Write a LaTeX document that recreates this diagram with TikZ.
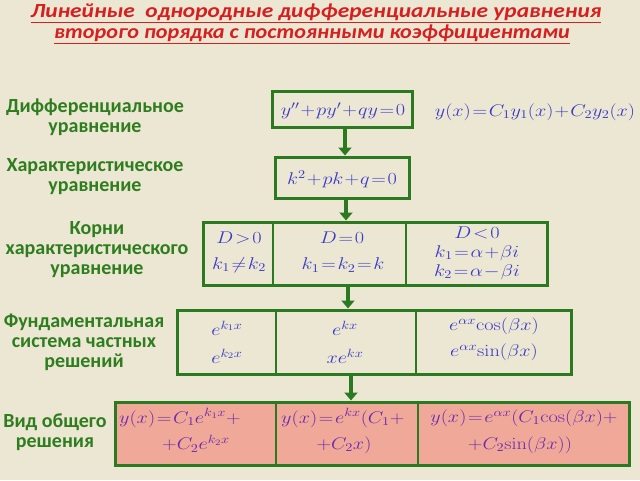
\documentclass[tikz,border=0pt]{standalone}
\usepackage{fix-cm}
\usepackage[no-math]{fontspec}
\setmainfont{Carlito}
\usetikzlibrary{arrows.meta,calc}
\definecolor{bg}{HTML}{ECE7D3}
\definecolor{gr}{HTML}{2B7A22}
\definecolor{lab}{HTML}{2E7D1F}
\definecolor{ttl}{HTML}{D81E1E}
\definecolor{mth}{HTML}{3A3AC8}
\definecolor{mth2}{HTML}{6A2AB0}
\definecolor{pinkfill}{HTML}{F0A898}
\newcommand\tightmath{\thickmuskip=1.5mu plus 1mu\medmuskip=1mu}
\newcommand\mx[1]{\scalebox{1.19}[1]{$#1$}}
\newcommand\tx[2]{\scalebox{#1}[1]{\underline{#2}}}
\begin{document}
\begin{tikzpicture}[x=1pt,y=-1pt,
  box/.style={draw=gr, line width=3pt, inner sep=0pt, rectangle},
  div/.style={draw=gr, line width=2pt},
  lbl/.style={text=lab, font=\fontsize{20}{20}\selectfont\bfseries, align=center, inner sep=0pt},
  ttlstyle/.style={text=ttl, font=\fontsize{20}{22}\selectfont\bfseries\itshape, inner sep=0pt},
  m/.style={text=mth, font=\fontsize{17}{19}\selectfont\tightmath, inner sep=0pt},
  mp/.style={text=mth2, font=\fontsize{17}{19}\selectfont\tightmath, inner sep=0pt},
  arr/.style={draw=gr, line width=4pt, -{Triangle[length=8pt,width=13pt]}}]
\fill[bg] (0,0) rectangle (640,480);
\useasboundingbox (0,0) rectangle (640,480);
% title
\node[ttlstyle] (t1) at (316,13) {\tx{1.17}{Линейные\ \ однородные дифференциальные уравнения}};
\node[ttlstyle] (t2) at (312,34) {\tx{1.11}{второго порядка с постоянными коэффициентами}};
% boxes
\node[box, minimum width=140, minimum height=36] (b1) at (342,109) {};
\node[box, minimum width=134, minimum height=41] (b2) at (342,177.5) {};
\node[box, minimum width=344, minimum height=63] (b3) at (375,253.5) {};
\node[box, minimum width=394, minimum height=64] (b4) at (374,342) {};
\node[box, fill=pinkfill, minimum width=514, minimum height=63] (b5) at (372,433.5) {};
% dividers
\draw[div] ($(b3.north west)+(71,0)$) -- ($(b3.south west)+(71,0)$);
\draw[div] ($(b3.north west)+(204,0)$) -- ($(b3.south west)+(204,0)$);
\draw[div] ($(b4.north west)+(100,0)$) -- ($(b4.south west)+(100,0)$);
\draw[div] ($(b4.north west)+(240,0)$) -- ($(b4.south west)+(240,0)$);
\draw[div] ($(b5.north west)+(162,0)$) -- ($(b5.south west)+(162,0)$);
\draw[div] ($(b5.north west)+(304,0)$) -- ($(b5.south west)+(304,0)$);
% arrows
\draw[arr] ([xshift=3pt]b1.south) -- ([xshift=3pt]b2.north);
\draw[arr] ([xshift=4pt]b2.south) -- ($(b2.south |- b3.north)+(4,0)$);
\draw[arr] ([xshift=-27pt]b3.south) -- ($(b3.south |- b4.north)+(-27,0)$);
\draw[arr] ([xshift=-23pt]b4.south) -- ($(b4.south |- b5.north)+(-23,0)$);
% labels
\node[lbl] (l1) at (95,117) {Дифференциальное\\уравнение};
\node[lbl] (l2) at (95,177) {Характеристическое\\уравнение};
\node[lbl] (l3) at (97,250) {Корни\\характеристического\\уравнение};
\node[lbl] (l4) at (84,342) {Фундаментальная\\система частных\\решений};
\node[lbl] (l5) at (55,432) {Вид общего\\решения};
% box 1, 2
\node[m] (e1) at (343,111) {\mx{y''+py'+qy=0}};
\node[m] (e1r) at (535,112) {\mx{y(x)=C_1y_1(x)+C_2y_2(x)}};
\node[m] (e2) at (342,179) {\mx{k^2+pk+q=0}};
% box 3
\node[m] (r11) at (239,238) {\mx{D>0}};
\node[m] (r12) at (239,265) {\mx{k_1\ne k_2}};
\node[m] (r21) at (342,238) {\mx{D=0}};
\node[m] (r22) at (343,265) {\mx{k_1=k_2=k}};
\node[m] (r31) at (477,233) {\mx{D<0}};
\node[m] (r32) at (477,253) {\mx{k_1=\alpha+\beta i}};
\node[m] (r33) at (477,272) {\mx{k_2=\alpha-\beta i}};
% box 4
\node[m] (f11) at (227,328) {\mx{e^{k_1x}}};
\node[m] (f12) at (227,356) {\mx{e^{k_2x}}};
\node[m] (f21) at (345,328) {\mx{e^{kx}}};
\node[m] (f22) at (345,356) {\mx{xe^{kx}}};
\node[m] (f31) at (494,326) {\mx{e^{\alpha x}\!\cos(\beta x)}};
\node[m] (f32) at (494,352) {\mx{e^{\alpha x}\!\sin(\beta x)}};
% box 5
\node[mp, anchor=west] (g11) at (119,418) {\mx{y(x)=C_1e^{k_1x}+}};
\node[mp] (g12) at (196,444) {\mx{+C_2e^{k_2x}}};
\node[mp, anchor=west] (g21) at (281,418) {\mx{y(x)=e^{kx}(C_1+}};
\node[mp] (g22) at (344,445) {\mx{+C_2x)}};
\node[mp] (g31) at (524,418) {\mx{y(x)=e^{\alpha x}(C_1\!\cos(\beta x)+}};
\node[mp] (g32) at (520,445) {\mx{+C_2\!\sin(\beta x))}};
\end{tikzpicture}
\end{document}
